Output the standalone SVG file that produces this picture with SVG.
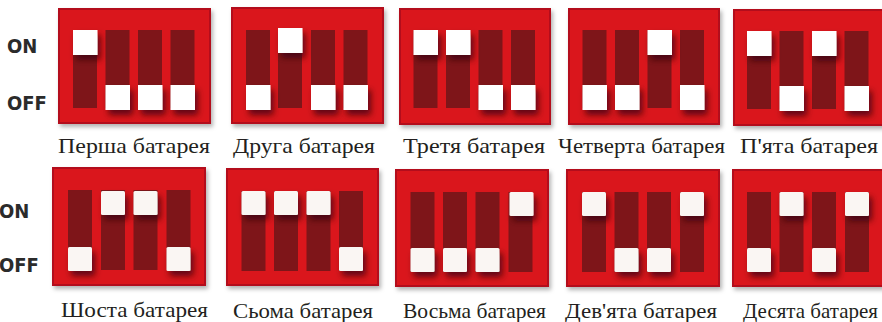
<svg xmlns="http://www.w3.org/2000/svg" width="882" height="322" viewBox="0 0 882 322">
<style>
.bg{fill:#ffffff}
.box{fill:#da151f;stroke:#b3111a;stroke-width:2;filter:url(#bs)}
.trk{fill:#7e1519}
.k1{fill:#ffffff;filter:url(#ks)}
.k2{fill:#faf6f3;filter:url(#ks)}
.sw{font-family:"DejaVu Sans Condensed","DejaVu Sans",sans-serif;font-stretch:condensed;font-weight:bold;font-size:20px;fill:#2b2b2b}
.lbl{font-family:"Liberation Serif","Times New Roman",serif;font-size:21px;fill:#231f20}
</style>
<defs>
<filter id="bs" x="-10%" y="-10%" width="125%" height="130%">
<feDropShadow dx="2" dy="3" stdDeviation="2" flood-color="#000" flood-opacity="0.3"/>
</filter>
<filter id="ks" x="-30%" y="-30%" width="180%" height="190%">
<feDropShadow dx="3" dy="5" stdDeviation="3" flood-color="#3a0407" flood-opacity="0.75"/>
</filter>
</defs>
<rect class="bg" x="0" y="0" width="882" height="322"/>

<g id="side-labels">
<text class="sw" x="7" y="53">ON</text>
<text class="sw" x="7" y="110">OFF</text>
<text class="sw" x="-1" y="218">ON</text>
<text class="sw" x="-1" y="272">OFF</text>
</g>

<g id="battery1">
<rect class="box" x="59" y="9" width="151" height="114"/>
<rect class="trk" x="73" y="30" width="24" height="78"/><rect class="trk" x="105.5" y="30" width="24" height="78"/><rect class="trk" x="138" y="30" width="24" height="78"/><rect class="trk" x="170.5" y="30" width="24" height="78"/>
<rect class="k1" x="73" y="30" width="24.5" height="25"/><rect class="k1" x="105.5" y="85" width="24.5" height="25"/><rect class="k1" x="138" y="85" width="24.5" height="25"/><rect class="k1" x="170.5" y="85" width="24.5" height="25"/>
<text class="lbl" x="58" y="153" textLength="152" lengthAdjust="spacingAndGlyphs">Перша батарея</text>
</g>

<g id="battery2">
<rect class="box" x="232" y="8" width="151" height="115"/>
<rect class="trk" x="246" y="30" width="24" height="78"/><rect class="trk" x="278" y="30" width="24" height="78"/><rect class="trk" x="311" y="30" width="24" height="78"/><rect class="trk" x="343.5" y="30" width="24" height="78"/>
<rect class="k1" x="246" y="85" width="24.5" height="25"/><rect class="k1" x="278" y="28" width="24.5" height="25"/><rect class="k1" x="311" y="85" width="24.5" height="25"/><rect class="k1" x="343.5" y="85" width="24.5" height="25"/>
<text class="lbl" x="233" y="153" textLength="142" lengthAdjust="spacingAndGlyphs">Друга батарея</text>
</g>

<g id="battery3">
<rect class="box" x="400" y="9" width="150" height="115"/>
<rect class="trk" x="413.5" y="30" width="24" height="78"/><rect class="trk" x="446" y="30" width="24" height="78"/><rect class="trk" x="478.5" y="30" width="24" height="78"/><rect class="trk" x="511" y="30" width="24" height="78"/>
<rect class="k1" x="413.5" y="30" width="24.5" height="25"/><rect class="k1" x="446" y="30" width="24.5" height="25"/><rect class="k1" x="478.5" y="85" width="24.5" height="25"/><rect class="k1" x="511" y="85" width="24.5" height="25"/>
<text class="lbl" x="403" y="153" textLength="142" lengthAdjust="spacingAndGlyphs">Третя батарея</text>
</g>

<g id="battery4">
<rect class="box" x="569" y="9" width="150" height="115"/>
<rect class="trk" x="582.5" y="30" width="24" height="78"/><rect class="trk" x="615" y="30" width="24" height="78"/><rect class="trk" x="647.5" y="30" width="24" height="78"/><rect class="trk" x="680" y="30" width="24" height="78"/>
<rect class="k1" x="582.5" y="85" width="24.5" height="25"/><rect class="k1" x="615" y="85" width="24.5" height="25"/><rect class="k1" x="647.5" y="30" width="24.5" height="25"/><rect class="k1" x="680" y="85" width="24.5" height="25"/>
<text class="lbl" x="558" y="153" textLength="167" lengthAdjust="spacingAndGlyphs">Четверта батарея</text>
</g>

<g id="battery5">
<rect class="box" x="734" y="10" width="152" height="115"/>
<rect class="trk" x="747" y="31" width="24" height="78"/><rect class="trk" x="779.5" y="31" width="24" height="78"/><rect class="trk" x="812" y="31" width="24" height="78"/><rect class="trk" x="844.5" y="31" width="24" height="78"/>
<rect class="k1" x="747" y="31" width="24.5" height="25"/><rect class="k1" x="779.5" y="86" width="24.5" height="25"/><rect class="k1" x="812" y="31" width="24.5" height="25"/><rect class="k1" x="844.5" y="86" width="24.5" height="25"/>
<text class="lbl" x="740" y="153" textLength="138" lengthAdjust="spacingAndGlyphs">П'ята батарея</text>
</g>

<g id="battery6">
<rect class="box" x="53" y="168" width="152" height="117"/>
<rect class="trk" x="68" y="190" width="24" height="80"/><rect class="trk" x="101" y="190" width="24" height="80"/><rect class="trk" x="133.5" y="190" width="24" height="80"/><rect class="trk" x="166.5" y="190" width="24" height="80"/>
<rect class="k2" x="68" y="247" width="24" height="24" rx="1.5"/><rect class="k2" x="101" y="191" width="24" height="24" rx="1.5"/><rect class="k2" x="133.5" y="191" width="24" height="24" rx="1.5"/><rect class="k2" x="166.5" y="247" width="24" height="24" rx="1.5"/>
<text class="lbl" x="61" y="317" textLength="147" lengthAdjust="spacingAndGlyphs">Шоста батарея</text>
</g>

<g id="battery7">
<rect class="box" x="227" y="169" width="151" height="116"/>
<rect class="trk" x="241.5" y="191" width="24" height="80"/><rect class="trk" x="274" y="191" width="24" height="80"/><rect class="trk" x="306.5" y="191" width="24" height="80"/><rect class="trk" x="339" y="191" width="24" height="80"/>
<rect class="k2" x="241.5" y="191" width="24" height="24" rx="1.5"/><rect class="k2" x="274" y="191" width="24" height="24" rx="1.5"/><rect class="k2" x="306.5" y="191" width="24" height="24" rx="1.5"/><rect class="k2" x="339" y="247" width="24" height="24" rx="1.5"/>
<text class="lbl" x="233" y="318" textLength="140" lengthAdjust="spacingAndGlyphs">Сьома батарея</text>
</g>

<g id="battery8">
<rect class="box" x="396" y="170" width="152" height="116"/>
<rect class="trk" x="410.5" y="192" width="24" height="80"/><rect class="trk" x="443" y="192" width="24" height="80"/><rect class="trk" x="475.5" y="192" width="24" height="80"/><rect class="trk" x="508.5" y="192" width="24" height="80"/>
<rect class="k2" x="410.5" y="248" width="24" height="24" rx="1.5"/><rect class="k2" x="443" y="248" width="24" height="24" rx="1.5"/><rect class="k2" x="475.5" y="248" width="24" height="24" rx="1.5"/><rect class="k2" x="509.5" y="192" width="24" height="24" rx="1.5"/>
<text class="lbl" x="403" y="318" textLength="143" lengthAdjust="spacingAndGlyphs">Восьма батарея</text>
</g>

<g id="battery9">
<rect class="box" x="567" y="170" width="152" height="116"/>
<rect class="trk" x="582" y="192" width="24" height="80"/><rect class="trk" x="614.5" y="192" width="24" height="80"/><rect class="trk" x="647" y="192" width="24" height="80"/><rect class="trk" x="680" y="192" width="24" height="80"/>
<rect class="k2" x="582" y="192" width="24" height="24" rx="1.5"/><rect class="k2" x="614.5" y="248" width="24" height="24" rx="1.5"/><rect class="k2" x="647" y="248" width="24" height="24" rx="1.5"/><rect class="k2" x="680" y="192" width="24" height="24" rx="1.5"/>
<text class="lbl" x="565" y="318" textLength="152" lengthAdjust="spacingAndGlyphs">Дев'ята батарея</text>
</g>

<g id="battery10">
<rect class="box" x="733" y="170" width="153" height="116"/>
<rect class="trk" x="747" y="192" width="24" height="80"/><rect class="trk" x="779.5" y="192" width="24" height="80"/><rect class="trk" x="812" y="192" width="24" height="80"/><rect class="trk" x="845" y="192" width="24" height="80"/>
<rect class="k2" x="747" y="248" width="24" height="24" rx="1.5"/><rect class="k2" x="779.5" y="192" width="24" height="24" rx="1.5"/><rect class="k2" x="812" y="248" width="24" height="24" rx="1.5"/><rect class="k2" x="845" y="192" width="24" height="24" rx="1.5"/>
<text class="lbl" x="743" y="318" textLength="135" lengthAdjust="spacingAndGlyphs">Десята батарея</text>
</g>
</svg>
